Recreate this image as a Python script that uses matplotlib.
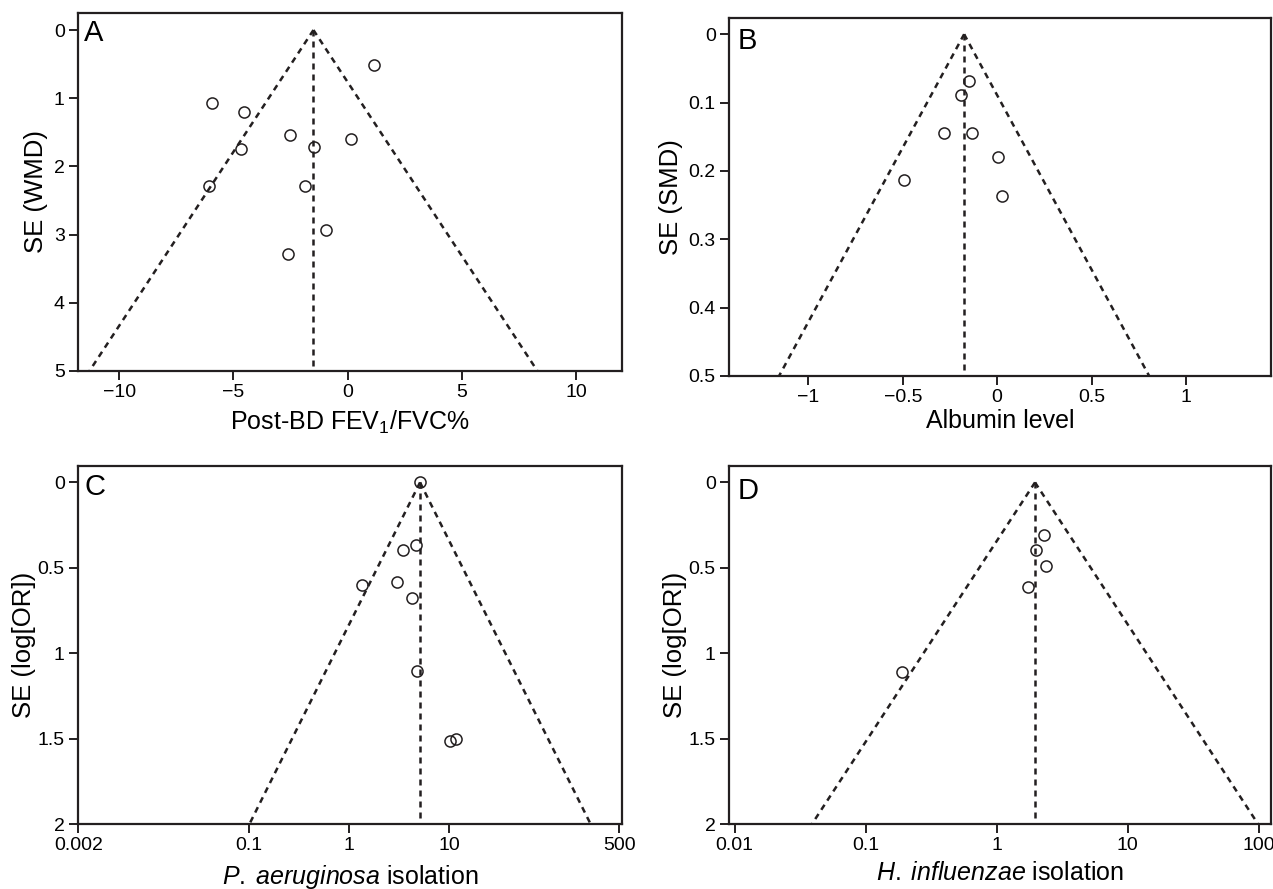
import numpy as np
import matplotlib
matplotlib.use("Agg")
import matplotlib.pyplot as plt
from matplotlib.ticker import FixedLocator, FixedFormatter, NullLocator

plt.rcParams['font.family'] = ['Liberation Sans', 'DejaVu Sans']
plt.rcParams['mathtext.fontset'] = 'custom'
plt.rcParams['mathtext.rm'] = 'Liberation Sans'
plt.rcParams['mathtext.it'] = 'Liberation Sans:italic'

INK = "#231f20"

# panel A: post-BD FEV1/FVC%, WMD vs SE
a_wmd = [1.17, -5.94, -4.54, -2.51, 0.13, -1.49, -4.65, -6.06, -1.85, -0.94, -2.6]
a_se = [0.51, 1.07, 1.20, 1.54, 1.60, 1.72, 1.75, 2.29, 2.29, 2.93, 3.28]
a_pooled = -1.5

# panel B: albumin level, SMD vs SE
b_smd = [-0.151, -0.19, -0.282, -0.134, 0.002, -0.496, 0.024]
b_se = [0.069, 0.089, 0.144, 0.144, 0.179, 0.214, 0.236]
b_pooled = -0.175

# panel C: P. aeruginosa isolation, OR vs SE(log OR)
c_or = [5.13, 4.67, 3.43, 1.36, 3.01, 4.25, 4.76, 10.1, 11.7]
c_se = [0.0, 0.365, 0.396, 0.603, 0.582, 0.677, 1.103, 1.512, 1.50]
c_pooled = 5.13

# panel D: H. influenzae isolation
d_or = [2.31, 1.99, 2.38, 1.73, 0.189]
d_se = [0.306, 0.396, 0.49, 0.611, 1.11]
d_pooled = 1.96

panels = [
    dict(x=a_wmd, y=a_se, pooled=a_pooled, log=False, se_max=5, ytop=-0.25,
         xlim=(-11.8, 12.0), xticks=[-10, -5, 0, 5, 10],
         xlabels=["\u221210", "\u22125", "0", "5", "10"],
         yticks=[0, 1, 2, 3, 4, 5], ylabels=["0", "1", "2", "3", "4", "5"],
         xlabel="Post-BD FEV$_1$/FVC%", ylabel="SE (WMD)", letter="A",
         rect=[0.0613, 0.5827, 0.4273, 0.4027], xlab_y=-0.143, ylab_x=-0.077,
         let_xy=(0.011, 0.945)),
    dict(x=b_smd, y=b_se, pooled=b_pooled, log=False, se_max=0.5, ytop=-0.023,
         xlim=(-1.42, 1.45), xticks=[-1, -0.5, 0, 0.5, 1],
         xlabels=["\u22121", "\u22120.5", "0", "0.5", "1"],
         yticks=[0, 0.1, 0.2, 0.3, 0.4, 0.5],
         ylabels=["0", "0.1", "0.2", "0.3", "0.4", "0.5"],
         xlabel="Albumin level", ylabel="SE (SMD)", letter="B",
         rect=[0.5727, 0.5771, 0.4257, 0.4021], xlab_y=-0.127, ylab_x=-0.108,
         let_xy=(0.016, 0.936)),
    dict(x=c_or, y=c_se, pooled=c_pooled, log=True, se_max=2, ytop=-0.096,
         xlim=(0.00198, 532), xticks=[0.002, 0.1, 1, 10, 500],
         xlabels=["0.002", "0.1", "1", "10", "500"],
         yticks=[0, 0.5, 1, 1.5, 2], ylabels=["0", "0.5", "1", "1.5", "2"],
         xlabel=r"$\mathit{P.\;aeruginosa}$ isolation",
         ylabel="SE (log[OR])", letter="C",
         rect=[0.0613, 0.0731, 0.4273, 0.4027], xlab_y=-0.149,
         ylab_x=-0.100, let_xy=(0.012, 0.941)),
    dict(x=d_or, y=d_se, pooled=d_pooled, log=True, se_max=2, ytop=-0.096,
         xlim=(0.00905, 124), xticks=[0.01, 0.1, 1, 10, 100],
         xlabels=["0.01", "0.1", "1", "10", "100"],
         yticks=[0, 0.5, 1, 1.5, 2], ylabels=["0", "0.5", "1", "1.5", "2"],
         xlabel=r"$\mathit{H.\;influenzae}$ isolation",
         ylabel="SE (log[OR])", letter="D",
         rect=[0.5727, 0.0731, 0.4257, 0.4027], xlab_y=-0.137,
         ylab_x=-0.100, let_xy=(0.016, 0.93)),
]

fig = plt.figure(figsize=(12.73, 8.89), dpi=100)
dash = (0, (2.4, 2.0))

for p in panels:
    ax = fig.add_axes(p["rect"])
    se = np.array([0, p["se_max"]])
    if p["log"]:
        ax.set_xscale("log")
        c = np.log(p["pooled"])
        left = np.exp(c - 1.96 * se)
        right = np.exp(c + 1.96 * se)
    else:
        left = p["pooled"] - 1.96 * se
        right = p["pooled"] + 1.96 * se
    ax.plot(left, se, color=INK, lw=1.8, ls=dash)
    ax.plot(right, se, color=INK, lw=1.8, ls=dash)
    ax.plot([p["pooled"], p["pooled"]], se, color=INK, lw=1.8, ls=dash)
    ax.plot(p["x"], p["y"], "o", ms=8, mfc="none", mec=INK, mew=1.1)

    ax.set_xlim(*p["xlim"])
    ax.set_ylim(p["se_max"], p["ytop"])
    ax.xaxis.set_major_locator(FixedLocator(p["xticks"]))
    ax.xaxis.set_major_formatter(FixedFormatter(p["xlabels"]))
    ax.xaxis.set_minor_locator(NullLocator())
    ax.set_yticks(p["yticks"])
    ax.set_yticklabels(p["ylabels"])
    ax.tick_params(labelsize=14, length=6.5, width=1.4, color=INK, pad=3)
    for s in ax.spines.values():
        s.set_linewidth(1.6)
        s.set_color(INK)

    ax.set_xlabel(p["xlabel"], fontsize=18, va="center")
    ax.xaxis.set_label_coords(0.5, p["xlab_y"])
    ax.set_ylabel(p["ylabel"], fontsize=18.5, va="center")
    ax.yaxis.set_label_coords(p["ylab_x"], 0.5)
    ax.text(p["let_xy"][0], p["let_xy"][1], p["letter"], transform=ax.transAxes,
            fontsize=21, ha="left", va="center")

fig.savefig("out.png", dpi=100)
